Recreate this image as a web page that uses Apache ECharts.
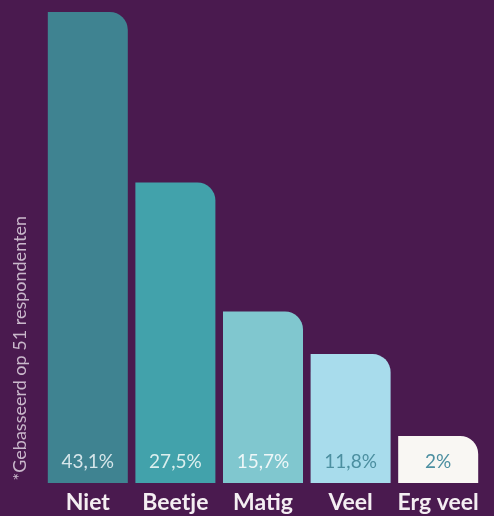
<!DOCTYPE html>
<html>
<head>
<meta charset="utf-8">
<script src="https://cdn.jsdelivr.net/npm/echarts@6/dist/echarts.min.js"></script>
<style>
html,body{margin:0;padding:0;background:#4a1a4f;}
#chart{width:494px;height:516px;}
</style>
</head>
<body>
<div id="chart"></div>
<script>
const categories = ['Niet', 'Beetje', 'Matig', 'Veel', 'Erg veel'];
const values = [43.1, 27.5, 15.7, 11.8, 2];
const valueLabels = ['43,1%', '27,5%', '15,7%', '11,8%', '2%'];
const barColors = ['#3f8391', '#42a2ab', '#80c7cf', '#a8dcec', '#f9f7f3'];
const labelColors = ['#d6e6ea', '#dcefee', '#eef7f8', '#4c8fa0', '#4c8fa0'];
const footnote = '*Gebasseerd op 51 respondenten';

const chart = echarts.init(document.getElementById('chart'));
chart.setOption({
  backgroundColor: '#4a1a4f',
  animation: false,
  grid: { left: 44, right: 12, top: 12, bottom: 33 },
  xAxis: {
    type: 'category',
    data: categories,
    axisLine: { show: false },
    axisTick: { show: false },
    axisLabel: {
      interval: 0,
      color: '#f4eef2',
      fontFamily: 'Lato',
      fontWeight: 'bold',
      fontSize: 23,
      margin: 8
    }
  },
  yAxis: {
    type: 'value',
    min: 0,
    max: 43.1,
    show: false,
    splitLine: { show: false }
  },
  graphic: [{
    type: 'text',
    left: 11,
    top: 216,
    rotation: Math.PI / 2,
    style: {
      text: footnote,
      fill: '#c9b8cb',
      font: '18px Lato'
    }
  }],
  series: [{
    type: 'bar',
    barWidth: 80,
    barMinHeight: 47,
    data: values.map((v, i) => ({
      value: v,
      itemStyle: { color: barColors[i], borderRadius: [0, 18, 0, 0] },
      label: {
        show: true,
        position: 'insideBottom',
        distance: 12,
        formatter: valueLabels[i],
        color: labelColors[i],
        fontFamily: 'Lato',
        fontSize: 19
      }
    }))
  }]
});
</script>
</body>
</html>
